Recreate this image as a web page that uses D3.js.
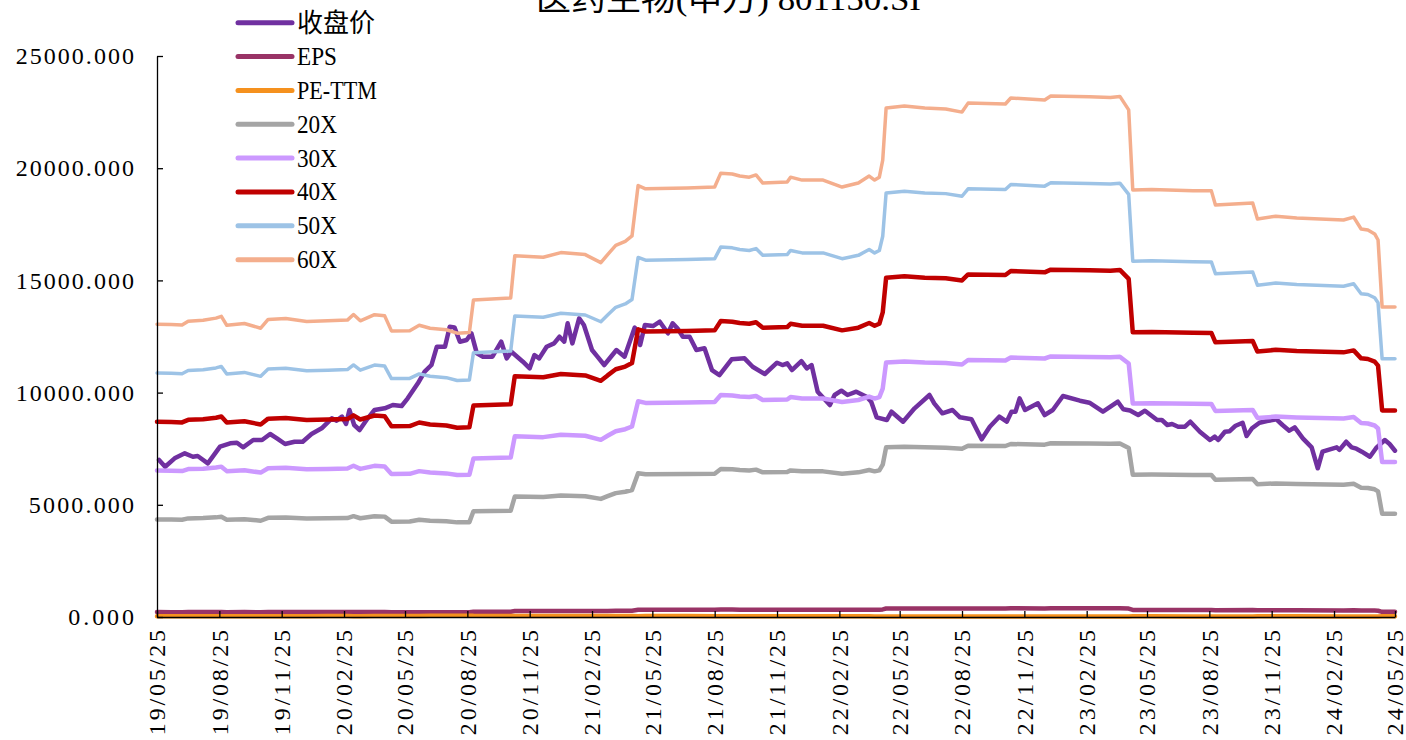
<!DOCTYPE html>
<html>
<head>
<meta charset="utf-8">
<script src="https://cdn.jsdelivr.net/npm/d3@7"></script>
<style>
  html, body { margin: 0; padding: 0; background: #fff; }
  svg { display: block; }
</style>
</head>
<body>
<svg id="chart" width="1406" height="740"></svg>
<script>
// ---- chart text ----
const chartTitle = "医药生物(申万) 801150.SI";
const yTickValues = [0, 5000, 10000, 15000, 20000, 25000];
const xTickLabels = ["19/05/25","19/08/25","19/11/25","20/02/25","20/05/25","20/08/25","20/11/25",
  "21/02/25","21/05/25","21/08/25","21/11/25","22/02/25","22/05/25","22/08/25","22/11/25",
  "23/02/25","23/05/25","23/08/25","23/11/25","24/02/25","24/05/25"];

// ---- index close (收盘价) ----
const priceDates = [
  "2019-05-28","2019-06-06","2019-06-20","2019-07-05","2019-07-17","2019-07-24","2019-08-08","2019-08-26","2019-09-10","2019-09-20","2019-09-29","2019-10-14","2019-10-27","2019-11-08","2019-11-18","2019-11-30","2019-12-14","2019-12-26",
  "2020-01-08","2020-01-23","2020-02-07","2020-02-14","2020-02-22","2020-02-28","2020-03-04","2020-03-11","2020-03-19","2020-03-31","2020-04-10","2020-04-25","2020-05-07","2020-05-20","2020-05-29","2020-06-13","2020-06-23","2020-07-03","2020-07-11","2020-07-23","2020-07-30","2020-08-06","2020-08-14","2020-08-24","2020-08-31","2020-09-08","2020-09-17","2020-10-01","2020-10-14","2020-10-22","2020-10-29","2020-11-15","2020-11-25","2020-12-02","2020-12-09","2020-12-20","2020-12-31",
  "2021-01-08","2021-01-15","2021-01-20","2021-01-27","2021-02-06","2021-02-13","2021-02-25","2021-03-05","2021-03-15","2021-04-02","2021-04-14","2021-04-29","2021-05-07","2021-05-14","2021-05-26","2021-06-05","2021-06-17","2021-06-24","2021-07-01","2021-07-09","2021-07-19","2021-07-29","2021-08-10","2021-08-21","2021-09-01","2021-09-19","2021-10-08","2021-10-20","2021-11-07","2021-11-25","2021-12-03","2021-12-10","2021-12-17","2021-12-31",
  "2022-01-08","2022-01-15","2022-01-24","2022-02-11","2022-02-18","2022-02-28","2022-03-09","2022-03-22","2022-04-06","2022-04-13","2022-04-21","2022-05-06","2022-05-13","2022-05-30","2022-06-16","2022-07-08","2022-07-15","2022-07-27","2022-08-11","2022-08-22","2022-09-08","2022-09-23","2022-10-05","2022-10-19","2022-10-30","2022-11-06","2022-11-12","2022-11-18","2022-11-26","2022-12-15","2022-12-25",
  "2023-01-06","2023-01-21","2023-02-15","2023-03-01","2023-03-21","2023-04-12","2023-04-20","2023-04-30","2023-05-12","2023-05-22","2023-06-09","2023-06-16","2023-06-24","2023-07-01","2023-07-10","2023-07-20","2023-07-28","2023-08-11","2023-08-26","2023-09-02","2023-09-07","2023-09-17","2023-09-24","2023-10-02","2023-10-13","2023-10-19","2023-10-27","2023-11-07","2023-11-18","2023-12-02","2023-12-11","2023-12-21","2023-12-29",
  "2024-01-10","2024-01-23","2024-02-01","2024-02-08","2024-02-19","2024-02-29","2024-03-04","2024-03-14","2024-03-22","2024-03-29","2024-04-06","2024-04-18","2024-04-28","2024-05-10","2024-05-17","2024-05-25"
];
const closePrice = [
  6996,6697,7070,7294,7143,7174,6849,7589,7740,7767,7562,7887,7887,8154,7963,7709,7811,7811,
  8154,8408,8854,8749,8927,8600,9224,8556,8333,8854,9224,9300,9447,9402,9745,10413,10931,11229,12045,12045,12936,12906,12268,12343,12642,11749,11600,11600,12268,11526,11822,11377,11080,11675,11526,12045,12194,
  12490,12268,13087,12194,13310,13012,11897,11600,11229,11897,11600,12900,12120,13012,12967,13160,12642,13087,12864,12490,12490,11897,11973,11006,10783,11482,11526,11154,10828,11332,11229,11305,11006,11400,
  11080,11229,10040,9447,9893,10085,9893,10040,9817,9594,8898,8778,9148,8703,9300,9893,9522,9077,9224,8898,8809,7918,8480,8927,8703,9148,9148,9745,9224,9522,9001,
  9224,9848,9640,9550,9148,9594,9255,9200,9001,9193,8778,8778,8556,8600,8480,8480,8703,8257,7887,8035,7887,8257,8280,8511,8658,8066,8408,8658,8734,8809,8556,8302,8453,
  7963,7562,6626,7366,7473,7562,7450,7811,7562,7500,7366,7143,7562,7887,7709,7410
];

// ---- EPS, PE-TTM and PE band series ----
const bandDates = [
  "2019-05-25","2019-06-15","2019-07-01","2019-07-10","2019-08-01","2019-08-20","2019-08-28","2019-09-05","2019-10-01","2019-10-25","2019-11-05","2019-12-01",
  "2020-01-01","2020-02-01","2020-03-01","2020-03-10","2020-03-20","2020-04-10","2020-04-25","2020-05-05","2020-06-01","2020-06-15","2020-07-01","2020-07-25","2020-08-10","2020-08-28","2020-09-03","2020-10-28","2020-11-03","2020-12-15",
  "2021-01-10","2021-02-15","2021-03-10","2021-03-20","2021-04-01","2021-04-15","2021-04-25","2021-05-04","2021-05-15","2021-07-15","2021-08-25","2021-09-03","2021-09-20","2021-10-01","2021-10-15","2021-10-25","2021-11-04","2021-12-10","2021-12-15",
  "2022-01-01","2022-02-01","2022-03-01","2022-03-25","2022-04-10","2022-04-18","2022-04-25","2022-04-30","2022-05-05","2022-06-01","2022-07-01","2022-08-01","2022-08-25","2022-09-03","2022-10-28","2022-11-05","2022-12-25",
  "2023-01-03","2023-03-01","2023-04-01","2023-04-15","2023-04-28","2023-05-04","2023-06-01","2023-08-01","2023-08-28","2023-09-03","2023-10-28","2023-11-04","2023-12-01",
  "2024-01-01","2024-03-10","2024-03-25","2024-04-05","2024-04-15","2024-04-25","2024-04-30","2024-05-06","2024-05-25"
];
const eps = [
  217.5,217.2,216.8,219.7,220.3,222.0,223.3,216.7,218.0,214.5,221.0,221.7,
  219.5,220.0,220.5,224.7,220.0,224.5,223.7,212.5,212.7,216.7,214.5,213.3,210.8,211.3,235.5,237.0,268.3,267.2,
  270.7,269.2,263.2,269.2,276.0,279.0,283.0,320.5,318.0,318.7,319.3,329.7,329.0,327.5,326.7,328.3,322.3,323.0,326.7,
  324.5,324.5,319.3,322.3,327.5,324.5,326.7,339.3,378.0,379.5,378.0,377.3,375.0,381.7,381.0,385.5,384.0,
  387.0,386.3,385.8,386.7,376.7,317.2,317.5,316.7,316.5,306.0,307.5,295.7,297.7,
  296.3,294.8,297.0,288.2,287.4,284.5,280.0,230.2,230.2
];
const peTTM = [
  32.2,32.3,33.4,33.0,32.2,33.3,34.0,35.3,34.9,36.8,36.7,34.7,
  36.0,39.1,39.5,38.3,38.2,41.1,41.6,44.4,46.1,48.5,52.0,57.7,59.8,59.4,51.0,49.8,43.6,44.2,
  45.8,47.5,43.3,42.7,42.9,41.6,44.2,39.0,40.9,39.2,34.5,32.9,34.9,35.1,34.6,33.5,33.8,35.0,34.0,
  35.1,29.9,31.5,30.9,29.6,27.7,27.1,25.9,23.3,23.1,25.7,24.3,23.7,23.1,23.0,23.6,23.4,
  23.8,24.7,24.1,24.6,24.4,28.7,28.0,27.3,25.1,26.1,27.5,29.1,29.5,
  28.3,26.1,25.1,25.6,25.1,26.2,27.3,34.1,32.2
];
const pe20x = [
  4350,4343,4337,4393,4407,4440,4467,4333,4360,4290,4420,4433,
  4390,4400,4410,4493,4400,4490,4473,4250,4253,4333,4290,4267,4217,4227,4710,4740,5367,5343,
  5413,5383,5263,5383,5520,5580,5660,6410,6360,6373,6387,6593,6580,6550,6533,6567,6447,6460,6533,
  6490,6490,6387,6447,6550,6490,6533,6787,7560,7590,7560,7547,7500,7633,7620,7710,7680,
  7740,7727,7717,7733,7533,6343,6350,6333,6330,6120,6150,5913,5953,
  5927,5897,5940,5763,5748,5690,5600,4603,4603
];
const pe30x = [
  6525,6515,6505,6590,6610,6660,6700,6500,6540,6435,6630,6650,
  6585,6600,6615,6740,6600,6735,6710,6375,6380,6500,6435,6400,6325,6340,7065,7110,8050,8015,
  8120,8075,7895,8075,8280,8370,8490,9615,9540,9560,9580,9890,9870,9825,9800,9850,9670,9690,9800,
  9735,9735,9580,9670,9825,9735,9800,10180,11340,11385,11340,11320,11250,11450,11430,11565,11520,
  11610,11590,11575,11600,11300,9515,9525,9500,9495,9180,9225,8870,8930,
  8890,8845,8910,8645,8623,8535,8400,6905,6905
];
const pe40x = [
  8700,8687,8673,8787,8813,8880,8933,8667,8720,8580,8840,8867,
  8780,8800,8820,8987,8800,8980,8947,8500,8507,8667,8580,8533,8433,8453,9420,9480,10733,10687,
  10827,10767,10527,10767,11040,11160,11320,12820,12720,12747,12773,13187,13160,13100,13067,13133,12893,12920,13067,
  12980,12980,12773,12893,13100,12980,13067,13573,15120,15180,15120,15093,15000,15267,15240,15420,15360,
  15480,15453,15433,15467,15067,12687,12700,12667,12660,12240,12300,11827,11907,
  11853,11793,11880,11527,11497,11380,11200,9207,9207
];
const pe50x = [
  10875,10858,10842,10983,11017,11100,11167,10833,10900,10725,11050,11083,
  10975,11000,11025,11233,11000,11225,11183,10625,10633,10833,10725,10667,10542,10567,11775,11850,13417,13358,
  13533,13458,13158,13458,13800,13950,14150,16025,15900,15933,15967,16483,16450,16375,16333,16417,16117,16150,16333,
  16225,16225,15967,16117,16375,16225,16333,16967,18900,18975,18900,18867,18750,19083,19050,19275,19200,
  19350,19317,19292,19333,18833,15858,15875,15833,15825,15300,15375,14783,14883,
  14817,14742,14850,14408,14371,14225,14000,11508,11508
];
const pe60x = [
  13050,13030,13010,13180,13220,13320,13400,13000,13080,12870,13260,13300,
  13170,13200,13230,13480,13200,13470,13420,12750,12760,13000,12870,12800,12650,12680,14130,14220,16100,16030,
  16240,16150,15790,16150,16560,16740,16980,19230,19080,19120,19160,19780,19740,19650,19600,19700,19340,19380,19600,
  19470,19470,19160,19340,19650,19470,19600,20360,22680,22770,22680,22640,22500,22900,22860,23130,23040,
  23220,23180,23150,23200,22600,19030,19050,19000,18990,18360,18450,17740,17860,
  17780,17690,17820,17290,17245,17070,16800,13810,13810
];

// ---- series styling (drawn in this order; later series sit on top) ----
const series = [
  { name: "收盘价", dates: priceDates, values: closePrice, color: "#7030A0", width: 4.5 },
  { name: "EPS",    dates: bandDates,  values: eps,        color: "#993366", width: 4.5 },
  { name: "PE-TTM", dates: bandDates,  values: peTTM,      color: "#F5911E", width: 4.5 },
  { name: "20X",    dates: bandDates,  values: pe20x,      color: "#A5A5A5", width: 4.5 },
  { name: "30X",    dates: bandDates,  values: pe30x,      color: "#CC99FF", width: 4.5 },
  { name: "40X",    dates: bandDates,  values: pe40x,      color: "#C00000", width: 4.5 },
  { name: "50X",    dates: bandDates,  values: pe50x,      color: "#9DC3E6", width: 3.5 },
  { name: "60X",    dates: bandDates,  values: pe60x,      color: "#F4AE8D", width: 3.5 }
];

const parseDay = d3.timeParse("%Y-%m-%d");
const parseTick = d3.timeParse("%y/%m/%d");
const serifFont = "'Liberation Serif','DejaVu Serif',serif";
const cjkFont = "'Noto Sans CJK SC','Liberation Serif',sans-serif";
const halfWidth = 13.15;   // monospaced cell width used for Latin labels

const svg = d3.select("#chart");
svg.append("rect").attr("width", 1406).attr("height", 740).attr("fill", "#fff");

const plot = { left: 157, right: 1395, top: 56, bottom: 617 };

const x = d3.scaleTime()
  .domain([parseTick(xTickLabels[0]), parseTick(xTickLabels[xTickLabels.length - 1])])
  .range([plot.left, plot.right]);
const y = d3.scaleLinear().domain([0, 25000]).range([plot.bottom, plot.top]);

// ---- lines ----
const line = d3.line()
  .x(d => x(d.date))
  .y(d => y(d.value));

const linesG = svg.append("g").attr("class", "lines");
series.forEach(s => {
  const pts = s.dates.map((d, i) => ({ date: parseDay(d), value: s.values[i] }));
  linesG.append("path")
    .datum(pts)
    .attr("fill", "none")
    .attr("stroke", s.color)
    .attr("stroke-width", s.width)
    .attr("stroke-linejoin", "round")
    .attr("stroke-linecap", "round")
    .attr("d", line);
});

// ---- y axis ----
const yAxisG = svg.append("g")
  .attr("transform", `translate(${plot.left},0)`)
  .call(d3.axisLeft(y).tickValues(yTickValues).tickSize(-6).tickSizeOuter(0).tickFormat(""));
yAxisG.select(".domain").attr("stroke", "#000").attr("stroke-width", 1.3);
yAxisG.selectAll(".tick line").attr("stroke", "#000").attr("stroke-width", 1.3);

const fmtY = d3.format(".3f");
svg.append("g").selectAll("text")
  .data(yTickValues)
  .join("text")
  .attr("x", d => 134 - fmtY(d).length * halfWidth)
  .attr("y", d => y(d))
  .attr("dy", "0.34em")
  .attr("textLength", d => fmtY(d).length * halfWidth)
  .attr("lengthAdjust", "spacing")
  .attr("font-family", serifFont)
  .attr("font-size", 24)
  .attr("fill", "#000")
  .text(d => fmtY(d));

// ---- x axis ----
const xTickDates = xTickLabels.map(parseTick);
const xAxisG = svg.append("g")
  .attr("transform", `translate(0,${plot.bottom})`)
  .call(d3.axisBottom(x).tickValues(xTickDates).tickSize(-6).tickSizeOuter(0).tickFormat(""));
xAxisG.select(".domain").attr("stroke", "#000").attr("stroke-width", 1.3);
xAxisG.selectAll(".tick line").attr("stroke", "#000").attr("stroke-width", 1.3);

svg.append("g").selectAll("text")
  .data(xTickLabels)
  .join("text")
  .attr("transform", d => `translate(${x(parseTick(d))},630) rotate(-90)`)
  .attr("text-anchor", "end")
  .attr("dy", "0.34em")
  .attr("textLength", d => d.length * halfWidth)
  .attr("lengthAdjust", "spacing")
  .attr("font-family", serifFont)
  .attr("font-size", 24)
  .attr("fill", "#000")
  .text(d => d);

// ---- title (sits partly above the top edge) ----
svg.append("text")
  .attr("x", 536)
  .attr("y", 10)
  .attr("textLength", 385)
  .attr("lengthAdjust", "spacingAndGlyphs")
  .attr("font-family", serifFont + ",'Noto Sans CJK SC'")
  .attr("font-size", 32)
  .attr("fill", "#000")
  .text(chartTitle);

// ---- legend ----
const legend = svg.append("g").attr("class", "legend");
series.forEach((s, i) => {
  const ly = 22.7 + i * 33.85;
  legend.append("line")
    .attr("x1", 238).attr("x2", 292)
    .attr("y1", ly).attr("y2", ly)
    .attr("stroke", s.color)
    .attr("stroke-width", 5)
    .attr("stroke-linecap", "round");
  const isCjk = /[\u4e00-\u9fff]/.test(s.name);
  const t = legend.append("text")
    .attr("x", 297)
    .attr("y", ly)
    .attr("fill", "#000")
    .text(s.name);
  if (isCjk) {
    t.attr("font-family", cjkFont).attr("font-size", 26).attr("dy", "0.36em");
  } else {
    t.attr("font-family", serifFont).attr("font-size", 25).attr("dy", "0.34em")
     .attr("textLength", s.name.length * 13.3).attr("lengthAdjust", "spacingAndGlyphs");
  }
});
</script>
</body>
</html>
